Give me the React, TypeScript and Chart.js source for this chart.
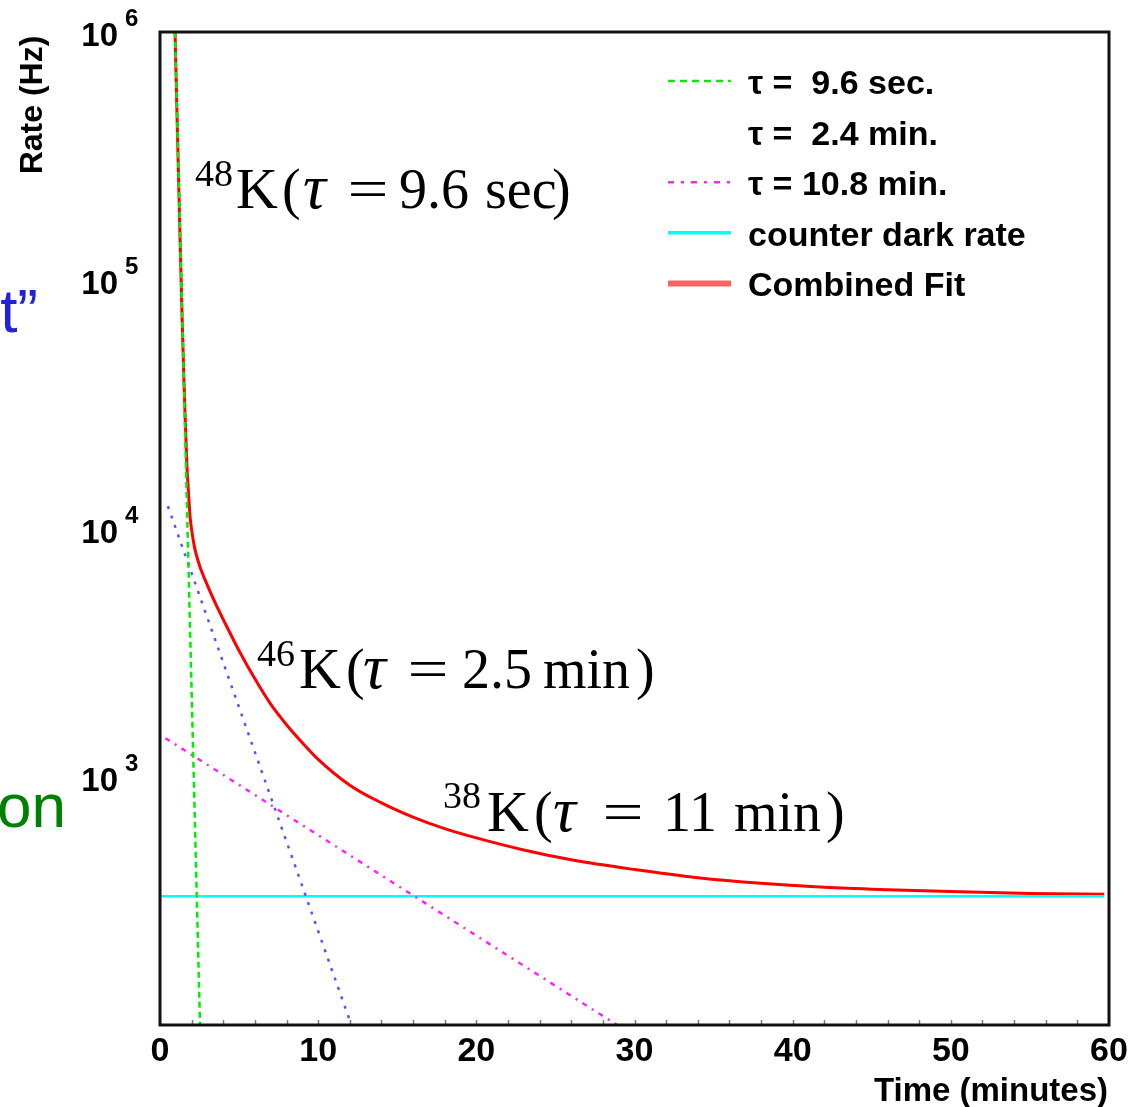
import React, { useEffect, useRef } from 'react';
import { Chart, registerables } from 'chart.js';

Chart.register(...registerables);

// ---------- data ----------
const timeTicks = [0, 10, 20, 30, 40, 50, 60];
const yTickExponents = [3, 4, 5, 6];

// 48K component (tau = 9.6 sec)
const k48Time = [0.95, 2.53];
const k48Rate = [1000000, 100];
// 46K component (tau = 2.4 min)
const k46Time = [0.5, 12.1];
const k46Rate = [12300, 100];
// 38K component (tau = 10.8 min)
const k38Time = [0.35, 28.9];
const k38Rate = [1430, 100];
// counter dark rate
const darkTime = [0, 59.7];
const darkRate = [330, 330];
// combined fit
const fitTime = [0.9, 1.0, 1.1, 1.2, 1.3, 1.4, 1.5, 1.6, 1.7, 1.8, 1.9, 2.0, 2.2, 2.5, 3.0, 3.5, 4.0, 5.0, 6.0, 7.0, 8.0, 9.0, 10, 12, 14, 16, 18, 20, 23, 26, 30, 34, 38, 42, 46, 50, 55, 59.7];
const fitRate = [1400000, 740000, 400000, 220000, 123000, 70000, 42000, 27000, 18000, 14000, 11200, 9900, 8300, 7100, 5900, 5000, 4300, 3220, 2480, 1960, 1620, 1370, 1175, 925, 785, 688, 618, 567, 507, 463, 423, 392, 372, 359, 351, 345, 339, 336];

const legendLabels = ['τ =  9.6 sec.', 'τ =  2.4 min.', 'τ = 10.8 min.', 'counter dark rate', 'Combined Fit'];

const annotations = [
  { iso: '48', value: '9.6', unit: 'sec' },
  { iso: '46', value: '2.5', unit: 'min' },
  { iso: '38', value: '11', unit: 'min' },
];

const toPoints = (xs: number[], ys: number[]) => xs.map((x, i) => ({ x, y: ys[i] }));

const SANS = '"Liberation Sans", Arial, Helvetica, sans-serif';
const SERIF = '"Liberation Serif", "Times New Roman", serif';

// layout for annotation pieces (pixel positions)
const annoLayout = [
  { sup: 195, supBase: 186, base: 208, k: 236, lp: 282, tau: 303, eq: 368, val: 399, unit: 485, rp: 552 },
  { sup: 257, supBase: 666, base: 688, k: 299, lp: 346, tau: 363, eq: 428, val: 462, unit: 543, rp: 636 },
  { sup: 443, supBase: 808, base: 831, k: 487, lp: 534, tau: 553, eq: 623, val: 663, unit: 734, rp: 826 },
];

const legendStyles = [
  { color: '#00ee00', dash: [7, 5], width: 2.5, draw: true },
  { color: '#5555ff', dash: [2, 8], width: 2, draw: false },
  { color: '#ff22ff', dash: [6, 7, 3, 7], width: 2.5, draw: true },
  { color: '#00ffff', dash: [], width: 3.5, draw: true },
  { color: '#ff6262', dash: [], width: 6, draw: true },
];

const decorPlugin = {
  id: 'decor',
  afterDraw(chart: any) {
    const ctx: CanvasRenderingContext2D = chart.ctx;
    const { left, right, top, bottom } = chart.chartArea;
    const xs = chart.scales.x;
    const ys = chart.scales.y;
    ctx.save();

    // inner minor ticks on the time axis
    ctx.strokeStyle = '#777';
    ctx.lineWidth = 1.5;
    for (let v = 2; v < 60; v += 2) {
      const px = Math.round(xs.getPixelForValue(v)) + 0.5;
      ctx.beginPath();
      ctx.moveTo(px, bottom);
      ctx.lineTo(px, bottom - 5);
      ctx.stroke();
    }

    // frame
    ctx.strokeStyle = '#111';
    ctx.lineWidth = 3;
    ctx.strokeRect(left, top, right - left, bottom - top);

    // y tick labels 10^n
    ctx.fillStyle = '#000';
    yTickExponents.forEach((e) => {
      const py = ys.getPixelForValue(Math.pow(10, e));
      ctx.font = `bold 33px ${SANS}`;
      ctx.textAlign = 'right';
      ctx.textBaseline = 'alphabetic';
      ctx.fillText('10', 118, py + 14);
      ctx.font = `bold 24px ${SANS}`;
      ctx.textAlign = 'left';
      ctx.fillText(String(e), 125, py - 6);
    });

    // y title
    ctx.save();
    ctx.translate(33, 105);
    ctx.rotate(-Math.PI / 2);
    ctx.font = `bold 32px ${SANS}`;
    ctx.textAlign = 'center';
    ctx.textBaseline = 'middle';
    ctx.fillText('Rate (Hz)', 0, 0);
    ctx.restore();

    // x title
    ctx.font = `bold 33px ${SANS}`;
    ctx.textAlign = 'right';
    ctx.textBaseline = 'alphabetic';
    ctx.fillText('Time (minutes)', 1108, 1101);

    // legend
    legendLabels.forEach((label, i) => {
      const base = 94 + i * 50.6;
      const st = legendStyles[i];
      if (st.draw) {
        ctx.save();
        ctx.strokeStyle = st.color;
        ctx.lineWidth = st.width;
        ctx.setLineDash(st.dash);
        ctx.beginPath();
        ctx.moveTo(668, base - 13);
        ctx.lineTo(731, base - 13);
        ctx.stroke();
        ctx.restore();
      }
      ctx.font = `bold 34px ${SANS}`;
      ctx.textAlign = 'left';
      ctx.fillStyle = '#000';
      ctx.fillText(label, 748, base);
    });

    // annotations (serif)
    annotations.forEach((a, i) => {
      const L = annoLayout[i];
      ctx.fillStyle = '#000';
      ctx.textAlign = 'left';
      ctx.textBaseline = 'alphabetic';
      ctx.font = `38px ${SERIF}`;
      ctx.fillText(a.iso, L.sup, L.supBase);
      ctx.font = `58px ${SERIF}`;
      ctx.fillText('K', L.k, L.base);
      ctx.font = `56px ${SERIF}`;
      ctx.fillText('(', L.lp, L.base);
      ctx.font = `italic 64px ${SERIF}`;
      ctx.fillText('τ', L.tau, L.base);
      ctx.font = `56px ${SERIF}`;
      ctx.save();
      ctx.translate(L.eq, L.base);
      ctx.scale(1.3, 1);
      ctx.textAlign = 'center';
      ctx.fillText('=', 0, 0);
      ctx.restore();
      ctx.fillText(a.value, L.val, L.base);
      ctx.fillText(a.unit, L.unit, L.base);
      ctx.fillText(')', L.rp, L.base);
    });

    // cropped slide text on the left edge
    ctx.font = `62px ${SANS}`;
    ctx.textAlign = 'right';
    ctx.fillStyle = '#2222dd';
    ctx.fillText('t\u201d', 38, 332);
    ctx.fillStyle = '#008000';
    ctx.fillText('on', 66, 827);

    ctx.restore();
  },
};

export default function App() {
  const canvasRef = useRef<HTMLCanvasElement | null>(null);

  useEffect(() => {
    if (!canvasRef.current) return;
    const chart = new Chart(canvasRef.current, {
      type: 'line',
      data: {
        datasets: [
          {
            label: 'τ = 9.6 sec.',
            data: toPoints(k48Time, k48Rate),
            borderColor: '#00ee00',
            borderWidth: 2.5,
            borderDash: [6, 4],
            pointRadius: 0,
          },
          {
            label: 'τ = 2.4 min.',
            data: toPoints(k46Time, k46Rate),
            borderColor: '#5555ff',
            borderWidth: 2.5,
            borderDash: [3, 7],
            pointRadius: 0,
          },
          {
            label: 'τ = 10.8 min.',
            data: toPoints(k38Time, k38Rate),
            borderColor: '#ff22ff',
            borderWidth: 2.5,
            borderDash: [5, 6, 2, 6],
            pointRadius: 0,
          },
          {
            label: 'counter dark rate',
            data: toPoints(darkTime, darkRate),
            borderColor: '#00ffff',
            borderWidth: 2.5,
            pointRadius: 0,
          },
          {
            label: 'Combined Fit',
            data: toPoints(fitTime, fitRate),
            borderColor: '#ff0000',
            borderWidth: 3,
            pointRadius: 0,
            cubicInterpolationMode: 'monotone',
          },
        ],
      },
      options: {
        responsive: false,
        animation: false,
        devicePixelRatio: 1,
        layout: { padding: { left: 160, top: 32, right: 31, bottom: 0 } },
        plugins: {
          legend: { display: false },
          tooltip: { enabled: false },
        },
        scales: {
          x: {
            type: 'linear',
            min: 0,
            max: 60,
            afterFit: (s: any) => {
              s.height = 82;
            },
            grid: { display: false, drawTicks: false },
            border: { display: false },
            ticks: {
              stepSize: 10,
              autoSkip: false,
              maxRotation: 0,
              padding: 6,
              color: '#000',
              font: { family: SANS, weight: 'bold', size: 34 },
              callback: (v: any) => (timeTicks.includes(Number(v)) ? String(v) : ''),
            },
          },
          y: {
            type: 'logarithmic',
            min: 100,
            max: 1000000,
            display: false,
          },
        },
      },
      plugins: [decorPlugin],
    } as any);
    return () => chart.destroy();
  }, []);

  return (
    <div style={{ position: 'fixed', left: 0, top: 0, width: 1140, height: 1107, background: '#fff' }}>
      <canvas ref={canvasRef} width={1140} height={1107} />
    </div>
  );
}
